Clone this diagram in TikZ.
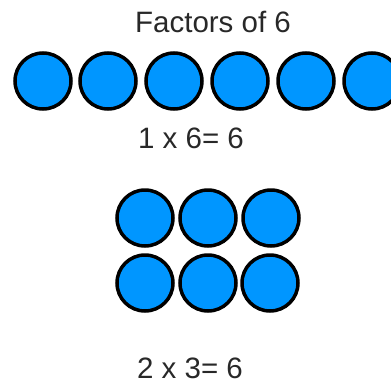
\documentclass[tikz,border=0pt]{standalone}
\usepackage{fontspec}
\setmainfont{Liberation Sans}
\usetikzlibrary{positioning}
\definecolor{dotcol}{RGB}{0,150,255}
\definecolor{txtcol}{RGB}{40,40,40}

\begin{document}
\begin{tikzpicture}[x=1pt, y=-1pt,
  dot/.style={circle, draw=black, line width=3.5pt, fill=dotcol,
              minimum size=56pt, inner sep=0pt},
  lbl/.style={font=\fontsize{29.5}{32}\selectfont, text=txtcol, anchor=base, inner sep=0pt}
]
\useasboundingbox (0,0) rectangle (391,383);

\node[lbl] (title) at (213,32) {Factors of 6};

% one row of six
\foreach \i/\x in {1/43,2/108,3/174,4/240,5/306,6/372}
  \node[dot] (r\i) at (\x,81) {};
\node[lbl] (rowtxt) at (191,148) {1 x 6= 6};

% two rows of three
\foreach \i/\x in {1/145,2/208,3/271}
  \node[dot] (a\i) at (\x,218) {};
\foreach \i/\x in {1/145,2/208,3/270}
  \node[dot] (b\i) at (\x,283) {};
\node[lbl] (gridtxt) at (190,378.5) {2 x 3= 6};

\end{tikzpicture}
\end{document}
